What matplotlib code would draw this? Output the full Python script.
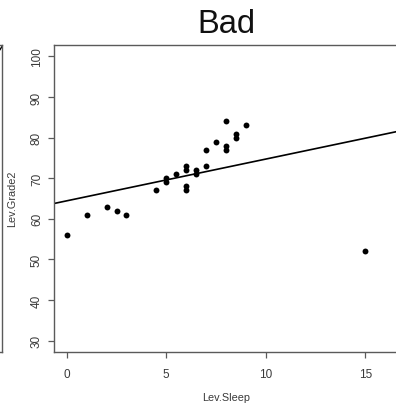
import numpy as np
import matplotlib
matplotlib.use("Agg")
import matplotlib.pyplot as plt
from matplotlib.lines import Line2D

# ── data ──────────────────────────────────────────────────────────────
lev_sleep = [0, 1, 2, 2.5, 3, 4.5, 5, 5, 5.5, 6, 6, 6, 6, 6.5, 6.5,
             7, 7, 7.5, 8, 8, 8, 8.5, 8.5, 9, 15]
lev_grade2 = [56, 61, 63, 62, 61, 67, 70, 69, 71, 73, 72, 68, 67, 72, 71,
              73, 77, 79, 84, 78, 77, 81, 80, 83, 52]
x_ticks = [0, 5, 10, 15]
y_ticks = [30, 40, 50, 60, 70, 80, 90, 100]
title = "Bad"
x_label = "Lev.Sleep"
y_label = "Lev.Grade2"

# ── style ─────────────────────────────────────────────────────────────
W, H = 396, 406
plt.rcParams["font.family"] = ["Liberation Sans", "DejaVu Sans"]
AXIS_COL = "#5a5a5a"
TEXT_COL = "#3a3a3a"

fig = plt.figure(figsize=(W / 100, H / 100), dpi=100)
fig.patch.set_facecolor("white")

# axes box in pixels: left 54, right 398 (just off the canvas), top 46, bottom 353
ax = fig.add_axes([54 / W, (H - 353) / H, 344 / W, 307 / H])
ax.set_xlim(-0.64, 16.64)
ax.set_ylim(27.2, 102.8)

ax.scatter(lev_sleep, lev_grade2, s=18, color="black", linewidths=0, zorder=3)

# least-squares line, drawn across the whole plot region like abline()
slope, intercept = np.polyfit(lev_sleep, lev_grade2, 1)
xs = np.array(ax.get_xlim())
ax.plot(xs, intercept + slope * xs, color="black", lw=1.2, zorder=2)

ax.set_xticks(x_ticks)
ax.set_yticks(y_ticks)
ax.tick_params(axis="both", direction="out", length=4.5, width=0.9,
               color=AXIS_COL, labelcolor=TEXT_COL, labelsize=8.5)
ax.tick_params(axis="x", pad=7)
ax.tick_params(axis="y", pad=3.5)
for lab in ax.get_yticklabels():
    lab.set_rotation(90)
    lab.set_va("center")
for sp in ax.spines.values():
    sp.set_color(AXIS_COL)
    sp.set_linewidth(1.0)

fig.text(226 / W, 1 - 33 / H, title, ha="center", va="baseline",
         fontsize=23.5, color="#111111")
fig.text(226 / W, 1 - 401.5 / H, x_label, ha="center", va="baseline",
         fontsize=7.8, color=TEXT_COL)
fig.text(12 / W, 1 - 199 / H, y_label, ha="center", va="center",
         rotation=90, fontsize=7.8, color=TEXT_COL)

# edge of the neighbouring panel that was cropped off on the left
ax0 = fig.add_axes([-0.5, (H - 353) / H, 0.5 + 2 / W, 307 / H])
ax0.set_xticks([])
ax0.set_yticks([])
for sp in ax0.spines.values():
    sp.set_color(AXIS_COL)
    sp.set_linewidth(1.0)
ax0.plot([0.985, 1.0], [0.98, 0.995], color="black", lw=1.0,
         transform=ax0.transAxes)

fig.savefig("out.png", dpi=100)
